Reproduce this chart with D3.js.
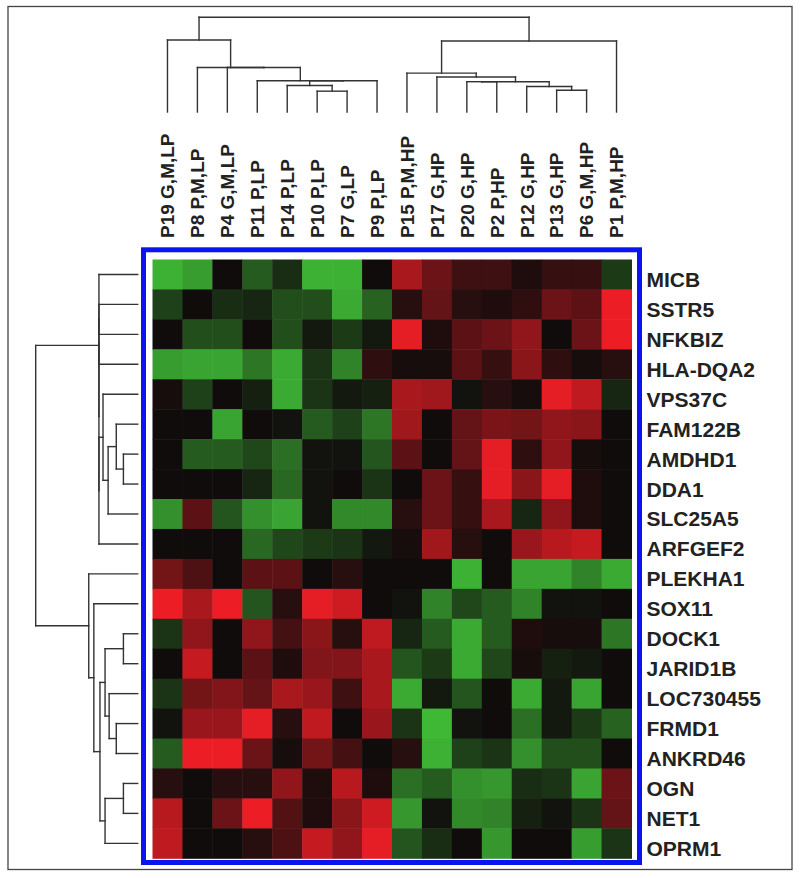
<!DOCTYPE html>
<html>
<head>
<meta charset="utf-8">
<script src="https://cdn.jsdelivr.net/npm/d3@7"></script>
<style>
  html, body { margin: 0; padding: 0; background: #fff; }
  svg { display: block; }
  text { font-family: "Liberation Sans", Arial, Helvetica, sans-serif; font-weight: bold; fill: #222; }
</style>
</head>
<body>
<script>
// ---------- data ----------
const columns = ["P19 G,M,LP","P8 P,M,LP","P4 G,M,LP","P11 P,LP","P14 P,LP","P10 P,LP","P7 G,LP","P9 P,LP",
                 "P15 P,M,HP","P17 G,HP","P20 G,HP","P2 P,HP","P12 G,HP","P13 G,HP","P6 G,M,HP","P1 P,M,HP"];
const genes = ["MICB","SSTR5","NFKBIZ","HLA-DQA2","VPS37C","FAM122B","AMDHD1","DDA1","SLC25A5","ARFGEF2",
               "PLEKHA1","SOX11","DOCK1","JARID1B","LOC730455","FRMD1","ANKRD46","OGN","NET1","OPRM1"];
// expression (log ratio), one array per gene, in column order
const values = [
  [-2.5,-2.2, 0.0,-1.2,-0.5,-2.5,-2.5, 0.0,  2.0, 1.2, 0.6, 0.6, 0.2, 0.5, 0.5,-0.7],
  [-0.8, 0.0,-0.5,-0.4,-1.0,-1.0,-2.4,-1.3,  0.3, 1.1, 0.3, 0.2, 0.4, 1.2, 1.0, 2.9],
  [ 0.0,-1.0,-1.0, 0.0,-1.0,-0.2,-0.7,-0.2,  2.8, 0.2, 1.0, 1.2, 1.7, 0.0, 1.2, 2.9],
  [-2.2,-2.3,-2.3,-1.6,-2.4,-0.6,-1.8, 0.4,  0.1, 0.1, 1.0, 0.5, 1.6, 0.4, 0.1, 0.3],
  [ 0.1,-0.8, 0.0,-0.3,-2.4,-0.6,-0.2,-0.3,  2.0, 1.9,-0.1, 0.3, 0.1, 2.8, 2.3,-0.4],
  [ 0.0, 0.0,-2.3, 0.0,-0.1,-1.2,-0.8,-1.6,  1.9, 0.0, 1.1, 1.4, 1.3, 1.7, 1.6, 0.0],
  [ 0.0,-1.2,-1.2,-0.9,-1.5,-0.1,-0.1,-1.1,  1.0, 0.0, 1.1, 2.8, 0.4, 1.7, 0.1, 0.0],
  [ 0.0, 0.0, 0.0,-0.4,-1.4,-0.1, 0.0,-0.6,  0.0, 1.2, 0.5, 2.8, 1.6, 2.8, 0.2, 0.0],
  [-2.0, 1.0,-1.1,-2.0,-2.3,-0.1,-1.9,-1.9,  0.3, 1.2, 0.5, 2.0,-0.4, 1.7, 0.2, 0.0],
  [ 0.0, 0.0, 0.0,-1.4,-0.9,-0.7,-0.6,-0.2,  0.1, 1.9, 0.3, 0.0, 1.8, 2.2, 2.4, 0.0],
  [ 1.3, 0.8, 0.0, 1.0, 1.0, 0.0, 0.3, 0.0,  0.0, 0.0,-2.5, 0.0,-2.3,-2.3,-1.8,-2.4],
  [ 2.9, 2.0, 2.9,-1.1, 0.3, 2.8, 2.5, 0.0, -0.1,-1.8,-0.9,-1.2,-1.8,-0.1,-0.1, 0.0],
  [-0.6, 1.7, 0.0, 1.7, 0.7, 1.6, 0.3, 2.3, -0.4,-1.2,-2.4,-1.2, 0.2, 0.1, 0.1,-1.6],
  [ 0.0, 2.4, 0.0, 1.0, 0.2, 1.5, 1.5, 2.0, -1.1,-0.7,-2.4,-0.9, 0.1,-0.3,-0.2, 0.0],
  [-0.6, 1.3, 1.5, 1.1, 2.0, 1.8, 0.6, 2.0, -2.4,-0.2,-1.1, 0.0,-2.4,-0.2,-2.3, 0.0],
  [-0.1, 1.8, 1.8, 2.8, 0.3, 2.3, 0.0, 1.8, -0.6,-2.6,-0.1, 0.0,-1.5,-0.2,-0.7,-1.3],
  [-1.2, 2.9, 2.9, 1.2, 0.1, 1.3, 0.7, 0.0,  0.3,-2.5,-0.8,-0.6,-2.0,-1.0,-1.0, 0.0],
  [ 0.3, 0.0, 0.3, 0.3, 1.7, 0.2, 2.2, 0.2, -1.5,-1.2,-2.0,-2.1,-0.5,-0.6,-2.3, 1.2],
  [ 2.2, 0.0, 1.2, 2.9, 0.9, 0.2, 1.6, 2.5, -2.1,-0.1,-1.9,-1.8,-0.3,-0.1,-0.6, 1.1],
  [ 2.3, 0.0, 0.0, 0.3, 0.8, 2.4, 1.7, 2.8, -1.1,-0.5, 0.0,-2.1, 0.0, 0.0,-2.2,-0.6]
];
// hclust-style merges (negative = leaf index, 1-based in display order; positive = earlier merge)
const colMerge = [[-6,-7],[-5,1],[2,-8],[-4,3],[-3,4],[-2,5],[-1,6],
                  [-14,-15],[-13,8],[-11,-12],[10,9],[-10,11],[-9,12],[13,-16],[7,14]];
const colHeight = [0.22,0.28,0.33,0.33,0.47,0.47,0.76,0.23,0.27,0.32,0.32,0.37,0.41,0.75,1.0];
const rowMerge = [[-2,-3],[1,-4],[-7,-8],[-6,3],[4,-9],[-5,5],[6,-10],[2,7],[-1,8],
                  [-13,-14],[-16,-17],[-15,11],[10,12],[-18,-19],[14,-20],[13,15],[-12,16],[-11,17],[9,18]];
const rowHeight = [0.38,0.38,0.14,0.21,0.29,0.34,0.38,0.38,0.38,
                   0.14,0.21,0.28,0.32,0.14,0.32,0.37,0.43,0.48,1.0];

// ---------- layout ----------
const W = 800, H = 878;
const svg = d3.select("body").append("svg").attr("width", W).attr("height", H);

const x = d3.scaleBand().domain(d3.range(columns.length)).range([152.5, 631.5]);
const y = d3.scaleBand().domain(d3.range(genes.length)).range([259.5, 858.3]);
const color = d3.scaleLinear().domain([-3, 0, 3]).range(["#46d23c", "#100c0c", "#f41e26"]).clamp(true);

// outer frame
svg.append("rect").attr("x", 8).attr("y", 6.5).attr("width", 784).attr("height", 863)
  .attr("fill", "none").attr("stroke", "#444").attr("stroke-width", 1.3);

// heatmap cells
const cells = [];
values.forEach((row, r) => row.forEach((v, c) => cells.push({ r, c, v })));
svg.append("g").selectAll("rect").data(cells).join("rect")
  .attr("x", d => x(d.c)).attr("y", d => y(d.r))
  .attr("width", x.bandwidth() + 0.5).attr("height", y.bandwidth() + 0.5)
  .attr("fill", d => color(d.v));

// blue frame
svg.append("rect").attr("x", 143.5).attr("y", 249.8).attr("width", 496).attr("height", 612.7)
  .attr("fill", "none").attr("stroke", "#0a14f0").attr("stroke-width", 5);

// ---------- dendrograms ----------
function dendroSegments(merge, height, leafPos) {
  const pos = [], hgt = [], segs = [];
  const get = i => i < 0 ? { p: leafPos(-i - 1), h: 0 } : { p: pos[i - 1], h: hgt[i - 1] };
  merge.forEach((m, k) => {
    const a = get(m[0]), b = get(m[1]), h = height[k];
    segs.push({ p1: a.p, h1: a.h, p2: a.p, h2: h });
    segs.push({ p1: b.p, h1: b.h, p2: b.p, h2: h });
    segs.push({ p1: a.p, h1: h, p2: b.p, h2: h });
    pos.push((a.p + b.p) / 2); hgt.push(h);
  });
  return segs;
}
const lineStyle = s => s.attr("stroke", "#333").attr("stroke-width", 1.4).attr("fill", "none").attr("stroke-linecap", "square");

const topH = d3.scaleLinear().domain([0, 1]).range([112, 17.3]);
const colSegs = dendroSegments(colMerge, colHeight, i => x(i) + x.bandwidth() / 2);
svg.append("g").call(lineStyle).selectAll("line").data(colSegs).join("line")
  .attr("x1", d => d.p1).attr("x2", d => d.p2).attr("y1", d => topH(d.h1)).attr("y2", d => topH(d.h2));

const leftH = d3.scaleLinear().domain([0, 1]).range([137.7, 35.7]);
const rowSegs = dendroSegments(rowMerge, rowHeight, i => y(i) + y.bandwidth() / 2);
svg.append("g").call(lineStyle).selectAll("line").data(rowSegs).join("line")
  .attr("y1", d => d.p1).attr("y2", d => d.p2).attr("x1", d => leftH(d.h1)).attr("x2", d => leftH(d.h2));

// ---------- labels ----------
svg.append("g").selectAll("text").data(columns).join("text")
  .attr("transform", (d, i) => `translate(${x(i) + x.bandwidth() / 2 + 6.8},238) rotate(-90)`)
  .attr("font-size", 19).attr("text-anchor", "start").text(d => d);

svg.append("g").selectAll("text").data(genes).join("text")
  .attr("x", 646.5).attr("y", (d, i) => y(i) + y.bandwidth() / 2 + 12.5)
  .attr("font-size", 21).text(d => d);
</script>
</body>
</html>
